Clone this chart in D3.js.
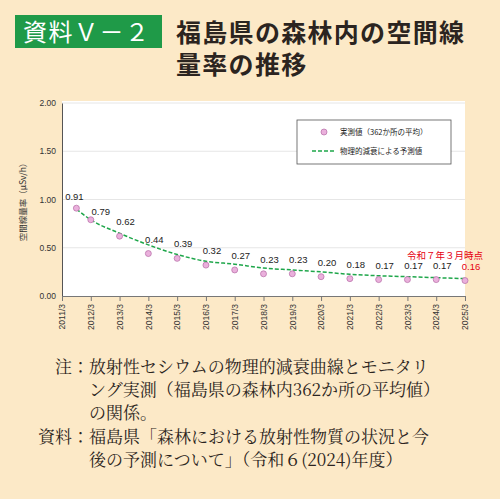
<!DOCTYPE html>
<html><head><meta charset="utf-8">
<script src="https://cdn.jsdelivr.net/npm/d3@7"></script>
<style>body{margin:0;background:#fce9c7}svg{display:block;font-family:"Noto Sans CJK JP",sans-serif}</style>
</head><body><svg id="c" width="500" height="499"></svg>
<script>
// data
const tickLabels = ["2011/3","2012/3","2013/3","2014/3","2015/3","2016/3","2017/3","2018/3","2019/3","2020/3","2021/3","2022/3","2023/3","2024/3","2025/3"]
const measuredX = [0.5,1,2,3,4,5,6,7,8,9,10,11,12,13,14]
const measured = [0.91,0.79,0.62,0.44,0.39,0.32,0.27,0.23,0.23,0.20,0.18,0.17,0.17,0.17,0.16]
const predX = [0.5,1,2,3,4,5,6,7,8,9,10,11,12,13,14]
const predicted = [0.90,0.79,0.65,0.53,0.43,0.36,0.33,0.29,0.27,0.25,0.225,0.21,0.20,0.19,0.18]
const yTicks = [0,0.5,1,1.5,2]

const svg = d3.select("#c")
const x = d3.scaleLinear().domain([0,14]).range([62,465])
const y = d3.scaleLinear().domain([0,2]).range([296,103])

// header
svg.append("rect").attr("x",15).attr("y",15).attr("width",147).attr("height",33).attr("fill","#1f9a48")
svg.append("text").attr("x",23).attr("y",41).attr("fill","#fff").attr("font-size",24).attr("letter-spacing",1.5).text("資料Ｖ－２")
svg.append("text").attr("x",176).attr("y",42).attr("fill","#2b2420").attr("font-size",25).attr("letter-spacing",1.3).attr("font-weight","bold").text("福島県の森林内の空間線")
svg.append("text").attr("x",176).attr("y",74).attr("fill","#2b2420").attr("font-size",25).attr("letter-spacing",1.3).attr("font-weight","bold").text("量率の推移")

// plot
svg.append("rect").attr("x",62).attr("y",101).attr("width",403).attr("height",195).attr("fill","#fff")
svg.append("g").selectAll("line").data(yTicks.slice(1)).join("line")
  .attr("x1",62).attr("x2",465).attr("y1",d=>y(d)).attr("y2",d=>y(d)).attr("stroke","#e6e6e6")

const ya = svg.append("g").attr("transform","translate(62,0)")
  .call(d3.axisLeft(y).tickValues(yTicks).tickFormat(d3.format(".2f")).tickSize(0).tickPadding(6))
ya.select(".domain").attr("stroke","#555")
ya.selectAll("text").attr("font-size",8.5).attr("fill","#333").attr("font-family","Liberation Sans, Arial")

const xa = svg.append("g").attr("transform","translate(0,296)")
  .call(d3.axisBottom(x).tickValues(d3.range(15)).tickFormat(i=>tickLabels[i]).tickSize(5))
xa.selectAll("line,.domain").attr("stroke","#777")
xa.selectAll("text").attr("font-size",8.5).attr("fill","#333").attr("font-family","Liberation Sans, Arial")
  .attr("transform","rotate(-90)").attr("text-anchor","end").attr("x",-8).attr("y",0).attr("dy","0.32em")

svg.append("text").attr("transform","translate(26,200) rotate(-90)").attr("text-anchor","middle")
  .attr("font-size",8.5).attr("fill","#333").text("空間線量率（μSv/h）")

// prediction curve
svg.append("path").datum(predX.map((d,i)=>[d,predicted[i]]))
  .attr("d",d3.line().x(d=>x(d[0])).y(d=>y(d[1])).curve(d3.curveMonotoneX))
  .attr("fill","none").attr("stroke","#1ea64a").attr("stroke-width",1.5).attr("stroke-dasharray","4,2")

// measured points
const pts = measuredX.map((d,i)=>({x:d,v:measured[i],i}))
svg.append("g").selectAll("circle").data(pts).join("circle")
  .attr("cx",d=>x(d.x)).attr("cy",d=>y(d.v)).attr("r",3)
  .attr("fill","#eab0dc").attr("stroke","#b56aa5").attr("stroke-width",0.7)
svg.append("g").selectAll("text").data(pts).join("text")
  .attr("x",d=>d.i===1?x(d.x)+10:x(d.x)+(d.i===0?-2:0)+(d.i>1?6:0))
  .attr("y",d=>y(d.v)-(d.i===1?5:(d.i===0?8:11)))
  .attr("text-anchor","middle").attr("font-size",9.5).attr("font-family","Liberation Sans, Arial")
  .attr("fill",d=>d.i===14?"#e60012":"#222").text(d=>d.v.toFixed(2))
svg.append("text").attr("x",483).attr("y",259).attr("text-anchor","end").attr("font-size",9.5)
  .attr("fill","#e60012").text("令和７年３月時点")

// legend
const lg = svg.append("g").attr("transform","translate(297,120)")
lg.append("rect").attr("width",154).attr("height",44).attr("fill","#fff").attr("stroke","#555").attr("stroke-width",0.8)
lg.append("circle").attr("cx",27).attr("cy",12).attr("r",3).attr("fill","#eab0dc").attr("stroke","#b56aa5").attr("stroke-width",0.7)
lg.append("text").attr("x",43).attr("y",15).attr("font-size",7.5).attr("fill","#222").text("実測値（362か所の平均）")
lg.append("line").attr("x1",15).attr("x2",39).attr("y1",31).attr("y2",31).attr("stroke","#1ea64a").attr("stroke-width",1.5).attr("stroke-dasharray","4,2")
lg.append("text").attr("x",43).attr("y",34).attr("font-size",7.5).attr("fill","#222").text("物理的減衰による予測値")

// notes
const notes = [
  [38,373,"　注：放射性セシウムの物理的減衰曲線とモニタリ"],
  [38,396,"　　　ング実測（福島県の森林内362か所の平均値）"],
  [38,419,"　　　の関係。"],
  [38,443,"資料：福島県「森林における放射性物質の状況と今"],
  [38,466,"　　　後の予測について」（令和６(2024)年度）"]
]
svg.append("g").selectAll("text").data(notes).join("text")
  .attr("x",d=>d[0]).attr("y",d=>d[1]).attr("font-size",17).attr("fill","#2b2420")
  .attr("font-family","Noto Serif CJK JP, Noto Sans CJK JP").text(d=>d[2])
</script></body></html>
